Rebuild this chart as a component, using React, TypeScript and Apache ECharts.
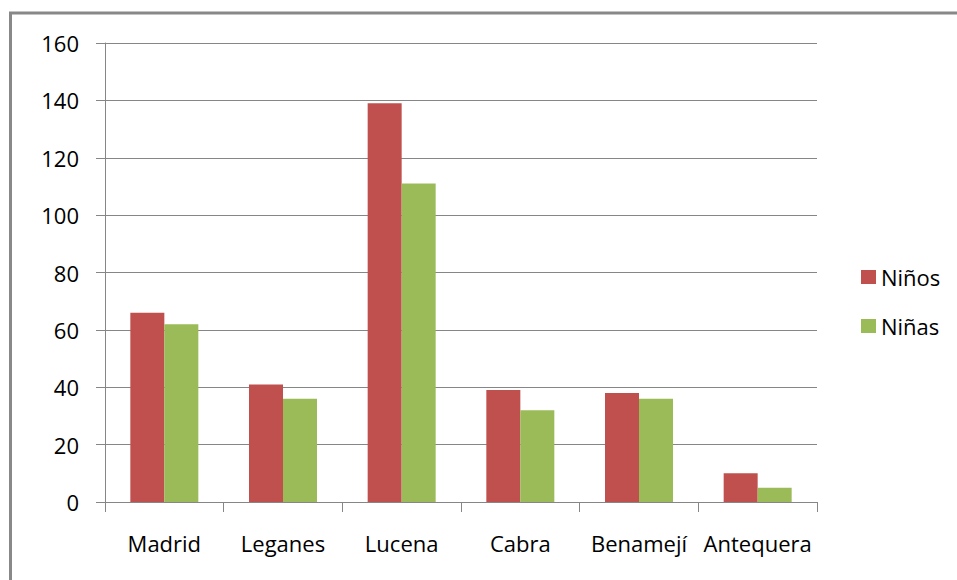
import React, { useEffect, useRef } from "react";
import * as echarts from "echarts";

const categories = ["Madrid", "Leganes", "Lucena", "Cabra", "Benamejí", "Antequera"];
const ninos = [66, 41, 139, 39, 38, 10];
const ninas = [62, 36, 111, 32, 36, 5];
const seriesNames = ["Niños", "Niñas"];
const yMin = 0;
const yMax = 160;
const yStep = 20;

const FONT = "'Open Sans', 'DejaVu Sans', sans-serif";
const AXIS_GRAY = "#868686";

export default function App() {
  const ref = useRef<HTMLDivElement>(null);

  useEffect(() => {
    if (!ref.current) return;
    const chart = echarts.init(ref.current, undefined, { renderer: "svg" });
    chart.setOption({
      animation: false,
      backgroundColor: "#ffffff",
      textStyle: { fontFamily: FONT },
      grid: { left: 105, right: 140, top: 43, bottom: 78, containLabel: false },
      legend: {
        orient: "vertical",
        left: 861,
        top: 266,
        padding: 0,
        itemWidth: 15,
        itemHeight: 14,
        itemGap: 27,
        icon: "rect",
        textStyle: { fontFamily: FONT, fontSize: 22, color: "#000" },
        data: seriesNames,
      },
      xAxis: {
        type: "category",
        data: categories,
        boundaryGap: true,
        axisLine: { show: true, lineStyle: { color: AXIS_GRAY, width: 1 } },
        axisTick: { show: true, length: 10, lineStyle: { color: AXIS_GRAY } },
        axisLabel: {
          margin: 30,
          fontFamily: FONT,
          fontSize: 22,
          color: "#000",
          interval: 0,
        },
      },
      yAxis: {
        type: "value",
        min: yMin,
        max: yMax,
        interval: yStep,
        axisLine: { show: true, lineStyle: { color: AXIS_GRAY, width: 1 } },
        axisTick: { show: true, length: 9, lineStyle: { color: AXIS_GRAY } },
        splitLine: { show: true, lineStyle: { color: AXIS_GRAY, width: 1 } },
        axisLabel: {
          margin: 26,
          fontFamily: FONT,
          fontSize: 22,
          color: "#000",
          padding: [0, 0, 4, 0],
        },
      },
      series: [
        {
          name: seriesNames[0],
          type: "bar",
          data: ninos,
          barWidth: 34,
          barGap: "0%",
          itemStyle: { color: "#C0504D" },
        },
        {
          name: seriesNames[1],
          type: "bar",
          data: ninas,
          barWidth: 34,
          barGap: "0%",
          itemStyle: { color: "#9BBB59" },
        },
      ],
      graphic: [
        {
          type: "rect",
          silent: true,
          shape: { x: 10.5, y: 13, width: 2000, height: 2000 },
          style: { fill: "none", stroke: "#888888", lineWidth: 3 },
        },
      ],
    });
    return () => chart.dispose();
  }, []);

  return (
    <div
      ref={ref}
      style={{ position: "absolute", left: 0, top: 0, width: 957, height: 580 }}
    />
  );
}
